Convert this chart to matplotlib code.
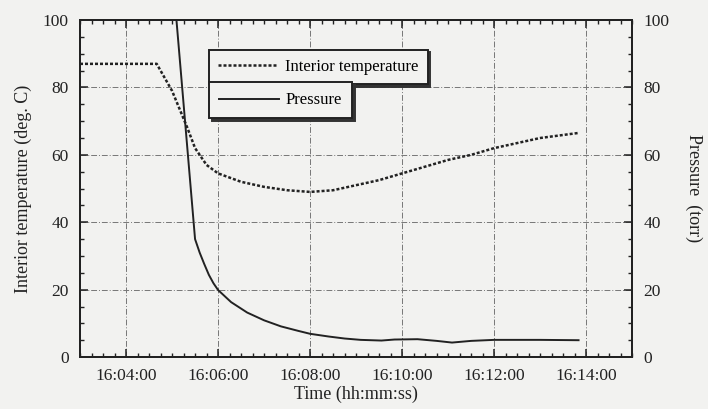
import numpy as np
import pandas as pd
import matplotlib
matplotlib.use('Agg')
import matplotlib.pyplot as plt
import matplotlib.dates as mdates

# data
temp_time = ['16:03:00', '16:04:00', '16:04:40', '16:05:00', '16:05:20', '16:05:30',
             '16:05:45', '16:06:00', '16:06:30', '16:07:00', '16:07:30', '16:08:00',
             '16:08:30', '16:09:00', '16:09:30', '16:10:00', '16:10:30', '16:11:00',
             '16:11:30', '16:12:00', '16:12:30', '16:13:00', '16:13:50']
temp_val = [87, 87, 87, 79, 68, 62, 57, 54.5, 52, 50.5, 49.5, 49,
            49.5, 51, 52.5, 54.5, 56.5, 58.5, 60, 62, 63.5, 65, 66.5]

pres_time = ['16:05:05', '16:05:30', '16:05:36', '16:05:42', '16:05:48', '16:05:54',
             '16:06:00', '16:06:17', '16:06:38', '16:07:00', '16:07:22', '16:07:44',
             '16:08:00', '16:08:24', '16:08:45', '16:09:06', '16:09:33', '16:09:50',
             '16:10:20', '16:10:45', '16:11:05', '16:11:30', '16:12:00', '16:13:00',
             '16:13:50']
pres_val = [102, 35, 31, 27.6, 24.4, 21.9, 19.9, 16.3, 13.2, 10.9, 9.1, 7.8,
            6.9, 6.1, 5.5, 5.1, 4.9, 5.2, 5.3, 4.8, 4.3, 4.8, 5.1, 5.1,
            5]

x_range = ['16:03:00', '16:15:00']

day = '2000-01-01 '
tt = pd.to_datetime([day + t for t in temp_time])
pt = pd.to_datetime([day + t for t in pres_time])
xr = pd.to_datetime([day + t for t in x_range])

plt.rcParams['font.family'] = ['Liberation Serif', 'DejaVu Serif']
bg = '#f2f2f0'
ink = '#222222'

fig = plt.figure(figsize=(7.08, 4.09), dpi=100, facecolor=bg)
ax = fig.add_axes([0.113, 0.127, 0.780, 0.824], facecolor=bg)
ax2 = ax.twinx()

l1, = ax.plot(tt, temp_val, color=ink, lw=1.8, ls=(0, (1.2, 0.8)), label='Interior temperature')
l2, = ax2.plot(pt, pres_val, color=ink, lw=1.4, label='Pressure')

ax.set_xlim(xr[0], xr[1])
ax.set_ylim(0, 100)
ax2.set_ylim(0, 100)

ax.xaxis.set_major_locator(mdates.MinuteLocator(byminute=range(0, 60, 2)))
ax.xaxis.set_minor_locator(mdates.SecondLocator(bysecond=[0, 15, 30, 45]))
ax.xaxis.set_major_formatter(mdates.DateFormatter('%H:%M:%S'))
ax.set_yticks(np.arange(0, 101, 20))
ax.set_yticks(np.arange(0, 101, 5), minor=True)
ax2.set_yticks(np.arange(0, 101, 20))
ax2.set_yticks(np.arange(0, 101, 5), minor=True)

ax.grid(True, which='major', color='#777777', lw=0.7, ls=(0, (6, 2, 1, 2)))

ax.tick_params(which='both', direction='in', top=True, labelsize=12.5, colors=ink, pad=8)
ax.tick_params(which='major', length=6, width=1.1)
ax.tick_params(which='minor', length=3, width=1)
ax2.tick_params(which='both', direction='in', labelsize=12.5, colors=ink, pad=8)
ax2.tick_params(which='major', length=6, width=1.1)
ax2.tick_params(which='minor', length=3, width=1)
for a in (ax, ax2):
    for s in a.spines.values():
        s.set_linewidth(1.4)
        s.set_color(ink)

ax.set_xlabel('Time (hh:mm:ss)', fontsize=13, color=ink, labelpad=1)
ax.set_ylabel('Interior temperature (deg. C)', fontsize=13, color=ink, labelpad=8)
ax2.set_ylabel('Pressure  (torr)', fontsize=13, color=ink, rotation=-90, labelpad=24)

# two stacked legend boxes with drop shadow
leg1 = ax2.legend(handles=[l1], loc='upper left', bbox_to_anchor=(0.234, 0.912),
                  fancybox=False, shadow={'color': '#333333', 'alpha': 1}, framealpha=1,
                  edgecolor=ink, facecolor=bg, fontsize=12, handlelength=3.6,
                  borderpad=0.55, handletextpad=0.4, borderaxespad=0)
leg1.get_frame().set_linewidth(1.4)
ax2.add_artist(leg1)
leg2 = ax2.legend(handles=[l2], loc='upper left', bbox_to_anchor=(0.234, 0.815),
                  fancybox=False, shadow={'color': '#333333', 'alpha': 1}, framealpha=1,
                  edgecolor=ink, facecolor=bg, fontsize=12, handlelength=3.6,
                  borderpad=0.6, handletextpad=0.4, borderaxespad=0)
leg2.get_frame().set_linewidth(1.4)

fig.savefig('out.png', dpi=100, facecolor=bg)
